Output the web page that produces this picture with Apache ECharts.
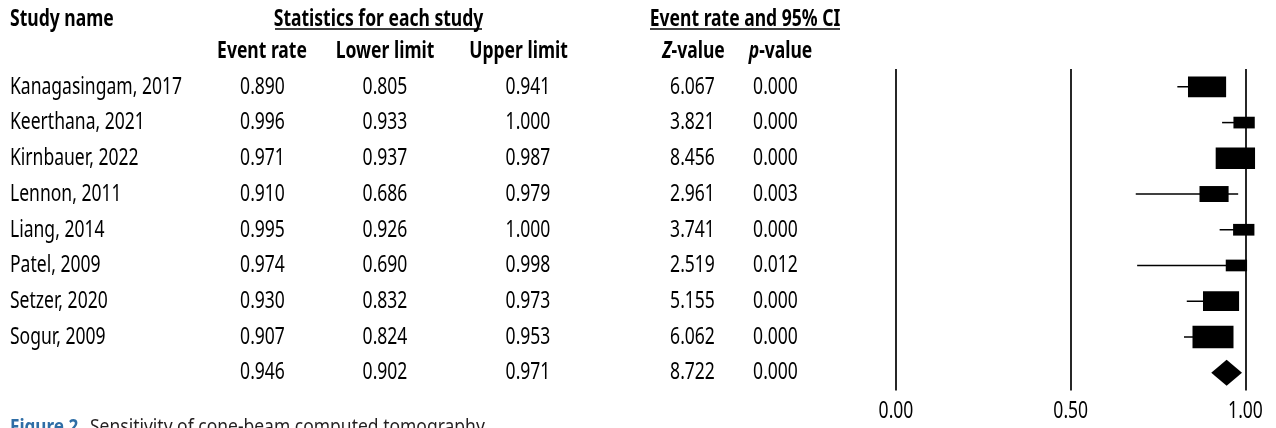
<!DOCTYPE html>
<html>
<head>
<meta charset="utf-8">
<title>Sensitivity of cone-beam computed tomography</title>
<script src="https://cdn.jsdelivr.net/npm/echarts@6/dist/echarts.min.js"></script>
<style>
  html, body { margin: 0; padding: 0; background: #ffffff; }
  #chart { width: 1276px; height: 428px; }
</style>
</head>
<body>
<div id="chart"></div>
<script>
// Individual studies (sensitivity of CBCT)
const studies = ['Kanagasingam, 2017', 'Keerthana, 2021', 'Kirnbauer, 2022', 'Lennon, 2011',
                 'Liang, 2014', 'Patel, 2009', 'Setzer, 2020', 'Sogur, 2009'];
const eventRate  = [0.890, 0.996, 0.971, 0.910, 0.995, 0.974, 0.930, 0.907];
const lowerLimit = [0.805, 0.933, 0.937, 0.686, 0.926, 0.690, 0.832, 0.824];
const upperLimit = [0.941, 1.000, 0.987, 0.979, 1.000, 0.998, 0.973, 0.953];
const zValue     = [6.067, 3.821, 8.456, 2.961, 3.741, 2.519, 5.155, 6.062];
const pValue     = [0.000, 0.000, 0.000, 0.003, 0.000, 0.012, 0.000, 0.000];
// Relative study weights (largest = 1)
const relativeWeight = [0.93, 0.52, 0.96, 0.71, 0.52, 0.52, 0.88, 1.00];

// Pooled estimate
const pooledRate  = 0.946;
const pooledLower = 0.902;
const pooledUpper = 0.971;
const pooledZ     = 8.722;
const pooledP     = 0.000;

// Axis ticks
const tickValues = [0, 0.5, 1];

const FONT = 'Noto Sans';
const SQUEEZE = 0.73;       // condensed look for the table type
const rowLabels = studies.concat(['']);
const summaryRow = studies.length;

// Table columns: [dataset, centre x, pooled value]
const columns = [
  [eventRate, 262.5, pooledRate],
  [lowerLimit, 385, pooledLower],
  [upperLimit, 528, pooledUpper],
  [zValue, 692.5, pooledZ],
  [pValue, 775.5, pooledP]
];

function txt(x, y, text, opts) {
  opts = opts || {};
  return {
    type: 'text', x: x, y: y, scaleX: opts.scaleX || SQUEEZE,
    style: {
      text: text,
      fontFamily: FONT,
      fontSize: opts.fontSize || 24,
      fontWeight: opts.bold ? 'bold' : 'normal',
      fill: opts.fill || '#000',
      align: opts.align || 'center',
      verticalAlign: 'middle',
      rich: opts.rich
    }
  };
}

const italicRich = {
  i: { fontFamily: FONT, fontSize: 24, fontWeight: 'bold', fontStyle: 'italic', fill: '#000' }
};

const chart = echarts.init(document.getElementById('chart'), null, { renderer: 'canvas' });

const tableData = studies.map((s, i) => [eventRate[i], i]).concat([[pooledRate, summaryRow]]);
const forestData = studies.map((s, i) => [eventRate[i], i, lowerLimit[i], upperLimit[i], relativeWeight[i]]);

chart.setOption({
  animation: false,
  backgroundColor: '#ffffff',
  grid: { left: 896, right: 30.5, top: 69, bottom: 37.5 },
  xAxis: {
    type: 'value', min: 0, max: 1, interval: 0.5,
    axisLine: { show: false }, axisTick: { show: false }, axisLabel: { show: false },
    splitLine: { show: true, lineStyle: { color: '#000', width: 1.7 } }
  },
  yAxis: {
    type: 'category', data: rowLabels, inverse: true,
    axisLine: { show: false }, axisTick: { show: false }, axisLabel: { show: false },
    splitLine: { show: false }
  },
  graphic: [
    txt(10, 19.5, 'Study name', { bold: true, align: 'left' }),
    txt(378.5, 19, 'Statistics for each study', { bold: true }),
    { type: 'line', shape: { x1: 275, y1: 29, x2: 482, y2: 29 }, style: { stroke: '#000', lineWidth: 1.5 } },
    txt(745, 19, 'Event rate and 95% CI', { bold: true }),
    { type: 'line', shape: { x1: 650, y1: 29, x2: 840, y2: 29 }, style: { stroke: '#000', lineWidth: 1.5 } },
    txt(262, 51.5, 'Event rate', { bold: true }),
    txt(385, 51.5, 'Lower limit', { bold: true }),
    txt(518.5, 51.5, 'Upper limit', { bold: true }),
    txt(693.5, 51.5, '{i|Z}-value', { bold: true, rich: italicRich }),
    txt(780.5, 51.5, '{i|p}-value', { bold: true, rich: italicRich }),
    txt(10, 428, 'Figure 2.', { bold: true, align: 'left', fontSize: 19, scaleX: 0.9, fill: '#2f6ea6' }),
    txt(90, 428, 'Sensitivity of cone-beam computed tomography', { align: 'left', fontSize: 19, scaleX: 0.92, fill: '#231f20' })
  ],
  series: [
    {
      // study names and statistics for each row
      type: 'custom', name: 'table', clip: false, silent: true,
      data: tableData,
      renderItem: function (params, api) {
        const i = params.dataIndex;
        const y = api.coord([api.value(0), api.value(1)])[1];
        const children = [];
        if (i < studies.length) children.push(txt(10, y, studies[i], { align: 'left' }));
        columns.forEach(function (col) {
          const v = i < studies.length ? col[0][i] : col[2];
          children.push(txt(col[1], y, v.toFixed(3)));
        });
        return { type: 'group', children: children };
      }
    },
    {
      // confidence interval whiskers and weight boxes
      type: 'custom', name: 'studies', clip: false, silent: true,
      data: forestData,
      renderItem: function (params, api) {
        const row = api.value(1);
        const c = api.coord([api.value(0), row]);
        const lo = api.coord([api.value(2), row]);
        const hi = api.coord([api.value(3), row]);
        const w = api.value(4);
        const bw = 41 * w, bh = 22.5 * w;
        return {
          type: 'group',
          children: [
            { type: 'line', shape: { x1: lo[0], y1: c[1], x2: hi[0], y2: c[1] },
              style: { stroke: '#000', lineWidth: 1.5 } },
            { type: 'rect', shape: { x: c[0] - bw / 2, y: c[1] - bh / 2, width: bw, height: bh },
              style: { fill: '#000' } }
          ]
        };
      }
    },
    {
      // pooled estimate diamond
      type: 'custom', name: 'pooled', clip: false, silent: true,
      data: [[pooledRate, summaryRow, pooledLower, pooledUpper]],
      renderItem: function (params, api) {
        const row = api.value(1);
        const c = api.coord([api.value(0), row]);
        const lo = api.coord([api.value(2), row]);
        const half = c[0] - lo[0];
        const hh = 13;
        return {
          type: 'polygon',
          shape: { points: [[c[0] - half, c[1]], [c[0], c[1] - hh], [c[0] + half, c[1]], [c[0], c[1] + hh]] },
          style: { fill: '#000' }
        };
      }
    },
    {
      // tick labels under the reference lines
      type: 'custom', name: 'ticks', clip: false, silent: true,
      data: tickValues.map(v => [v, summaryRow]),
      renderItem: function (params, api) {
        const x = api.coord([api.value(0), api.value(1)])[0];
        const y = params.coordSys.y + params.coordSys.height + 20.5;
        return txt(x, y, api.value(0).toFixed(2));
      }
    }
  ]
});
</script>
</body>
</html>
